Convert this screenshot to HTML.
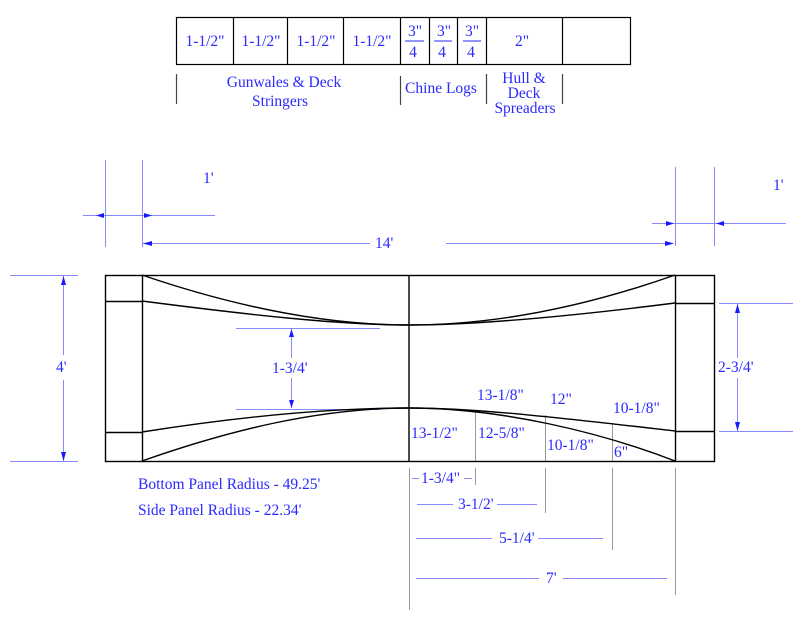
<!DOCTYPE html>
<html><head><style>
html,body{margin:0;padding:0;background:#fff;}
svg{display:block;}
text{font-family:"Liberation Serif",serif;font-size:15.5px;fill:#2a2aff;}
</style></head><body>
<svg width="797" height="623" viewBox="0 0 797 623" xmlns="http://www.w3.org/2000/svg">
<g stroke="#000" stroke-width="1.2" fill="none">
<rect x="176.5" y="17.5" width="454" height="47"/>
<line x1="233.5" y1="17" x2="233.5" y2="64"/>
<line x1="287.5" y1="17" x2="287.5" y2="64"/>
<line x1="343.5" y1="17" x2="343.5" y2="64"/>
<line x1="400.5" y1="17" x2="400.5" y2="64"/>
<line x1="429.5" y1="17" x2="429.5" y2="64"/>
<line x1="457.5" y1="17" x2="457.5" y2="64"/>
<line x1="486.5" y1="17" x2="486.5" y2="64"/>
<line x1="562.5" y1="17" x2="562.5" y2="64"/>
</g>
<g stroke="#444" stroke-width="1.2">
<line x1="176.5" y1="74" x2="176.5" y2="104"/>
<line x1="400.5" y1="76" x2="400.5" y2="105"/>
<line x1="486.5" y1="74" x2="486.5" y2="104"/>
<line x1="562.5" y1="74" x2="562.5" y2="104"/>
</g>
<g text-anchor="middle">
<text x="205" y="46">1-1/2"</text>
<text x="261" y="46">1-1/2"</text>
<text x="316" y="46">1-1/2"</text>
<text x="372" y="46">1-1/2"</text>
<text x="415" y="36">3"</text><line x1="405" y1="41" x2="424" y2="41" stroke="#2a2aff"/><text x="413" y="57">4</text>
<text x="444" y="36">3"</text><line x1="434" y1="41" x2="452" y2="41" stroke="#2a2aff"/><text x="442" y="57">4</text>
<text x="472" y="36">3"</text><line x1="463" y1="41" x2="481" y2="41" stroke="#2a2aff"/><text x="471" y="57">4</text>
<text x="522" y="46">2"</text>
<text x="284" y="87">Gunwales &amp; Deck</text>
<text x="280" y="106">Stringers</text>
<text x="441" y="93">Chine Logs</text>
<text x="524" y="83">Hull &amp;</text>
<text x="524" y="98">Deck</text>
<text x="525" y="113">Spreaders</text>
</g>
<g stroke="#8888ff" stroke-width="1" fill="none">
<line x1="105.5" y1="160" x2="105.5" y2="247"/>
<line x1="142.5" y1="160" x2="142.5" y2="247"/>
<line x1="83" y1="215.5" x2="215" y2="215.5"/>
<line x1="142" y1="243.5" x2="370" y2="243.5"/>
<line x1="446" y1="243.5" x2="672" y2="243.5"/>
<line x1="675.5" y1="167" x2="675.5" y2="246"/>
<line x1="714.5" y1="167" x2="714.5" y2="246"/>
<line x1="652" y1="223.5" x2="786" y2="223.5"/>
<line x1="10" y1="275.5" x2="78" y2="275.5"/>
<line x1="10" y1="461.5" x2="78" y2="461.5"/>
<line x1="63.5" y1="276" x2="63.5" y2="355"/>
<line x1="63.5" y1="380" x2="63.5" y2="461"/>
<line x1="719" y1="303.5" x2="793" y2="303.5"/>
<line x1="719" y1="431.5" x2="793" y2="431.5"/>
<line x1="737.5" y1="304" x2="737.5" y2="358"/>
<line x1="737.5" y1="378" x2="737.5" y2="431"/>
<line x1="236" y1="328.5" x2="380" y2="328.5"/>
<line x1="236" y1="409.5" x2="380" y2="409.5"/>
<line x1="291.5" y1="329" x2="291.5" y2="358"/>
<line x1="291.5" y1="378" x2="291.5" y2="408"/>
<line x1="412" y1="478.5" x2="419" y2="478.5"/>
<line x1="464" y1="478.5" x2="472" y2="478.5"/>
<line x1="417" y1="504.5" x2="453" y2="504.5"/>
<line x1="497" y1="504.5" x2="537" y2="504.5"/>
<line x1="416" y1="538.5" x2="492" y2="538.5"/>
<line x1="538" y1="538.5" x2="603" y2="538.5"/>
<line x1="416" y1="578.5" x2="539" y2="578.5"/>
<line x1="563" y1="578.5" x2="667" y2="578.5"/>
</g>
<g fill="#1a1aff">
<polygon points="96,215.5 104,213 104,218"/>
<polygon points="152,215.5 144,213 144,218"/>
<polygon points="143,243.5 152,241 152,246"/>
<polygon points="674,243.5 665,241 665,246"/>
<polygon points="674,223.5 666,221 666,226"/>
<polygon points="716,223.5 724,221 724,226"/>
<polygon points="63.5,276 61,285 66,285"/>
<polygon points="63.5,461 61,452 66,452"/>
<polygon points="737.5,304 735,313 740,313"/>
<polygon points="737.5,431 735,422 740,422"/>
<polygon points="291.5,329 289,337 294,337"/>
<polygon points="291.5,408 289,400 294,400"/>
</g>
<g stroke="#999" stroke-width="1">
<line x1="475.5" y1="411" x2="475.5" y2="461"/>
<line x1="545.5" y1="415" x2="545.5" y2="461"/>
<line x1="612.5" y1="423" x2="612.5" y2="461"/>
<line x1="409.5" y1="468" x2="409.5" y2="610"/>
<line x1="475.5" y1="468" x2="475.5" y2="485"/>
<line x1="545.5" y1="468" x2="545.5" y2="513"/>
<line x1="612.5" y1="468" x2="612.5" y2="550"/>
<line x1="675.5" y1="468" x2="675.5" y2="595"/>
</g>
<g stroke="#000" stroke-width="1.4" fill="none">
<rect x="105.5" y="275.5" width="609" height="186"/>
<line x1="142.5" y1="275" x2="142.5" y2="461"/>
<line x1="675.5" y1="275" x2="675.5" y2="461"/>
<line x1="105" y1="301.5" x2="142" y2="301.5"/>
<line x1="105" y1="432.5" x2="142" y2="432.5"/>
<line x1="675" y1="303.5" x2="714" y2="303.5"/>
<line x1="675" y1="431.5" x2="714" y2="431.5"/>
<line x1="409" y1="275" x2="409" y2="461"/>
<path d="M142,275 C230,305 320,325 409,325 C500,325 590,305 675,275"/>
<path d="M142,301 C250,315 340,325 409,325 C480,325 580,315 675,303"/>
<path d="M142,432 C250,415 340,408 409,408 C480,408 580,420 675,431"/>
<path d="M142,461 C230,430 320,408 409,408 C500,408 600,432 675,461"/>
</g>
<text x="203" y="183">1'</text>
<text x="773" y="190">1'</text>
<text x="375" y="248">14'</text>
<text x="56" y="372">4'</text>
<text x="718" y="372">2-3/4'</text>
<text x="272" y="373">1-3/4'</text>
<text x="477" y="400">13-1/8"</text>
<text x="550" y="404">12"</text>
<text x="613" y="413">10-1/8"</text>
<text x="411" y="438">13-1/2"</text>
<text x="478" y="438">12-5/8"</text>
<text x="547" y="450">10-1/8"</text>
<text x="614" y="457">6"</text>
<text x="138" y="489">Bottom Panel Radius - 49.25'</text>
<text x="138" y="515">Side Panel Radius - 22.34'</text>
<text x="421" y="483">1-3/4"</text>
<text x="458" y="509">3-1/2'</text>
<text x="499" y="543">5-1/4'</text>
<text x="546" y="583">7'</text>
</svg>
</body></html>
